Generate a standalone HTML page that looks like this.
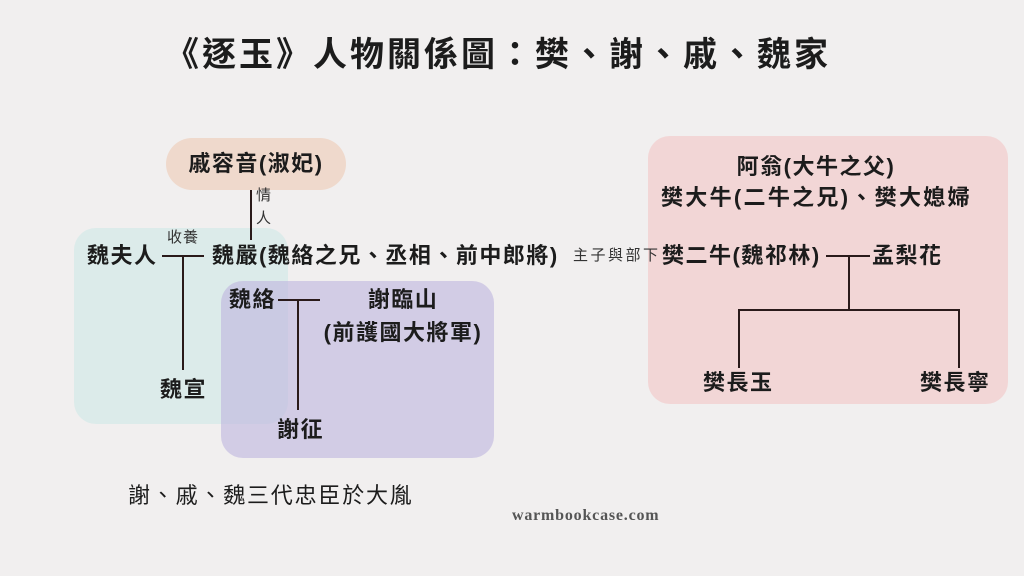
<!DOCTYPE html>
<html><head><meta charset="utf-8"><style>
body{margin:0;width:1024px;height:576px;background:#f1efef;position:relative;overflow:hidden;font-family:"Liberation Sans","Noto Sans CJK TC",sans-serif;color:#1c1c1c}
.a{position:absolute;white-space:nowrap;line-height:1}
.b{font-weight:bold;font-size:22px;letter-spacing:1.5px}
.s{font-size:15px;color:#333;letter-spacing:1px}
.box{position:absolute;border-radius:22px}
.l{position:absolute;background:#2a1a1a}
</style></head><body>
<div class="a" style="left:0;width:996px;text-align:center;top:38px;font-size:34px;font-weight:bold;letter-spacing:3px">《逐玉》人物關係圖：樊、謝、戚、魏家</div>
<div class="box" style="left:166px;top:138px;width:180px;height:52px;background:#efd9cc;border-radius:26px"></div>
<div class="box" style="left:74px;top:228px;width:214px;height:196px;background:#dcebea"></div>
<div class="box" style="left:221px;top:281px;width:273px;height:177px;background:rgba(190,180,222,0.6)"></div>
<div class="box" style="left:648px;top:136px;width:360px;height:268px;background:#f2d6d6"></div>

<div class="a b" style="left:166px;width:180px;text-align:center;top:153px">戚容音(淑妃)</div>
<div class="l" style="left:250px;top:190px;width:2px;height:50px"></div>
<div class="a s" style="left:256px;top:188px">情</div>
<div class="a s" style="left:256px;top:211px">人</div>
<div class="a s" style="left:167px;top:230px">收養</div>
<div class="a b" style="left:87px;top:245px">魏夫人</div>
<div class="l" style="left:162px;top:255px;width:42px;height:2px"></div>
<div class="l" style="left:182px;top:255px;width:2px;height:115px"></div>
<div class="a b" style="left:160px;top:379px">魏宣</div>
<div class="a b" style="left:212px;top:245px">魏嚴(魏絡之兄、丞相、前中郎將)</div>
<div class="a s" style="left:573px;top:248px;letter-spacing:2.5px">主子與部下</div>
<div class="a b" style="left:229px;top:289px">魏絡</div>
<div class="l" style="left:278px;top:299px;width:42px;height:2px"></div>
<div class="l" style="left:297px;top:299px;width:2px;height:111px"></div>
<div class="a b" style="left:277px;top:419px">謝征</div>
<div class="a b" style="left:320px;width:166px;text-align:center;top:289px">謝臨山</div>
<div class="a b" style="left:314px;width:178px;text-align:center;top:322px">(前護國大將軍)</div>

<div class="a b" style="left:648px;width:336px;text-align:center;top:156px">阿翁(大牛之父)</div>
<div class="a b" style="left:661px;top:187px;letter-spacing:2.3px">樊大牛(二牛之兄)、樊大媳婦</div>
<div class="a b" style="left:662px;top:245px">樊二牛(魏祁林)</div>
<div class="a b" style="left:872px;top:245px">孟梨花</div>
<div class="l" style="left:826px;top:255px;width:44px;height:2px"></div>
<div class="l" style="left:848px;top:255px;width:2px;height:56px"></div>
<div class="l" style="left:738px;top:309px;width:222px;height:2px"></div>
<div class="l" style="left:738px;top:309px;width:2px;height:59px"></div>
<div class="l" style="left:958px;top:309px;width:2px;height:59px"></div>
<div class="a b" style="left:703px;top:372px">樊長玉</div>
<div class="a b" style="left:920px;top:372px">樊長寧</div>

<div class="a" style="left:128px;top:485px;font-size:22px;letter-spacing:1.8px">謝、戚、魏三代忠臣於大胤</div>
<div class="a" style="left:512px;top:508px;font-size:16px;font-weight:bold;font-family:'Liberation Serif',serif;color:#555;letter-spacing:0.8px">warmbookcase.com</div>
</body></html>
